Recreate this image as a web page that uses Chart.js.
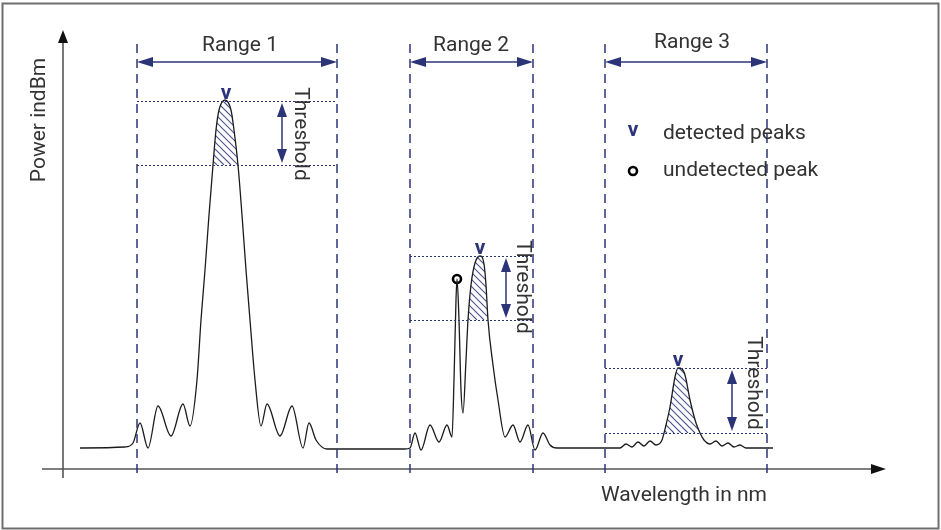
<!DOCTYPE html>
<html>
<head>
<meta charset="utf-8">
<script src="https://cdn.jsdelivr.net/npm/chart.js@4.4.1/dist/chart.umd.min.js"></script>
<style>
  html, body { margin: 0; padding: 0; background: #fff; }
</style>
</head>
<body>
<canvas id="peakChart" width="941" height="530"></canvas>
<script>
// Spectrum trace, arbitrary wavelength units (x) and arbitrary power units (y)
const traceX = [17, 62, 70, 77, 85, 95, 108, 120, 127, 134, 138, 142, 146, 150, 153, 156, 162, 168, 171, 175, 179, 183, 187, 192, 198, 204, 217, 229, 240, 246, 253, 264, 274, 342,
  347, 352, 358, 367, 376, 384, 389, 391, 393, 394, 396, 398, 400, 403, 405, 408, 412, 417, 421, 423, 425, 430, 435, 442, 450, 457, 465, 472, 480, 487, 494,
  557, 563, 569, 575, 581, 587, 593, 599, 603, 607, 612, 615, 619, 622, 627, 633, 637, 641, 647, 653, 659, 665, 671, 677, 683, 710];
const traceY = [21, 22, 26, 46, 21, 63, 33, 65, 43, 89, 149, 199, 254, 304, 339, 359, 369, 359, 339, 304, 254, 199, 149, 89, 43, 65, 33, 63, 21, 46, 29, 20, 20, 20,
  21, 36, 19, 44, 27, 44, 32, 89, 169, 190, 149, 79, 56, 109, 149, 184, 206, 213, 205, 184, 149, 104, 69, 32, 44, 27, 44, 19, 36, 24, 21,
  21, 25, 22, 27, 23, 28, 24, 29, 44, 62, 92, 101, 100, 94, 69, 46, 36, 29, 25, 28, 23, 26, 22, 24, 21, 21];

// Measurement ranges
const rangeNames = ['Range 1', 'Range 2', 'Range 3'];
const rangeStart = [74, 347, 542];
const rangeEnd = [274, 470, 704];
const rangeArrowY = [407, 407, 407];
const rangeLabelX = [177, 408, 629];
const rangeLabelY = [423, 423, 426];

// Threshold band of each range (peak level and peak level minus threshold)
const thresholdTop = [368, 213, 101];
const thresholdBottom = [304, 149, 36];
const thresholdArrowX = [219, 443, 669];
const thresholdLabelX = [237, 459, 690];
const thresholdLabelY = [335, 182, 86];
const hatchFrom = [140, 400, 590];
const hatchTo = [185, 440, 650];

// Peaks
const detectedPeakX = [163, 417, 615];
const detectedPeakY = [368, 213, 101];
const undetectedPeakX = [394];
const undetectedPeakY = [190];

// Legend entries
const legendLabels = ['detected peaks', 'undetected peak'];
const legendY = [335, 298];
const legendMarkX = 570;
const legendTextX = 600;

const navy = '#2c3478';
const textColor = '#333333';
const font = '21px Roboto, "Noto Sans", sans-serif';

function arrowHead(ctx, tipX, tipY, angle, len, half) {
  ctx.save();
  ctx.translate(tipX, tipY);
  ctx.rotate(angle);
  ctx.beginPath();
  ctx.moveTo(0, 0);
  ctx.lineTo(-len, -half);
  ctx.lineTo(-len, half);
  ctx.closePath();
  ctx.fill();
  ctx.restore();
}

const diagramPlugin = {
  id: 'diagram',
  beforeDatasetsDraw(chart) {
    // hatched area between the peak and the threshold line
    const ctx = chart.ctx;
    const xs = chart.scales.x, ys = chart.scales.y;
    const line = chart.getDatasetMeta(0).dataset;
    thresholdTop.forEach((top, i) => {
      const l = xs.getPixelForValue(hatchFrom[i]);
      const r = xs.getPixelForValue(hatchTo[i]);
      const t = ys.getPixelForValue(top);
      const b = ys.getPixelForValue(thresholdBottom[i]);
      ctx.save();
      ctx.beginPath();
      ctx.rect(l, t, r - l, b - t);
      ctx.clip();
      ctx.beginPath();
      line.path(ctx);
      ctx.clip();
      ctx.strokeStyle = '#4a5390';
      ctx.lineWidth = 1.1;
      const h = b - t;
      ctx.beginPath();
      for (let x = l - h; x < r; x += 7) {
        ctx.moveTo(x, t);
        ctx.lineTo(x + h, b);
      }
      ctx.stroke();
      ctx.restore();
    });
  },
  afterDraw(chart) {
    const ctx = chart.ctx;
    const xs = chart.scales.x, ys = chart.scales.y;
    const px = v => xs.getPixelForValue(v);
    const py = v => ys.getPixelForValue(v);

    ctx.save();

    // frame
    ctx.strokeStyle = '#6e6e6e';
    ctx.lineWidth = 2;
    ctx.strokeRect(2.5, 3.5, chart.width - 5, chart.height - 5);

    // axes
    ctx.strokeStyle = '#555';
    ctx.fillStyle = '#111';
    ctx.lineWidth = 1.6;
    ctx.beginPath();
    ctx.moveTo(px(0), py(-9));
    ctx.lineTo(px(0), py(430));
    ctx.moveTo(px(-21), py(0));
    ctx.lineTo(px(812), py(0));
    ctx.stroke();
    arrowHead(ctx, px(0), py(439), -Math.PI / 2, 13, 5);
    arrowHead(ctx, px(823), py(0), 0, 15, 5);

    // dashed range borders
    ctx.strokeStyle = navy;
    ctx.lineWidth = 1.5;
    ctx.setLineDash([9, 6]);
    ctx.beginPath();
    rangeStart.concat(rangeEnd).forEach(v => {
      ctx.moveTo(px(v), py(425));
      ctx.lineTo(px(v), py(-5));
    });
    ctx.stroke();

    // dotted threshold lines
    ctx.lineWidth = 1;
    ctx.setLineDash([2, 2]);
    ctx.beginPath();
    rangeStart.forEach((s, i) => {
      [thresholdTop[i], thresholdBottom[i]].forEach(y => {
        ctx.moveTo(px(s), Math.round(py(y)) + 0.5);
        ctx.lineTo(px(rangeEnd[i]), Math.round(py(y)) + 0.5);
      });
    });
    ctx.stroke();
    ctx.setLineDash([]);

    // range arrows
    ctx.fillStyle = navy;
    ctx.lineWidth = 1.5;
    rangeStart.forEach((s, i) => {
      const y = py(rangeArrowY[i]);
      ctx.beginPath();
      ctx.moveTo(px(s) + 8, y);
      ctx.lineTo(px(rangeEnd[i]) - 8, y);
      ctx.stroke();
      arrowHead(ctx, px(s), y, Math.PI, 16, 5);
      arrowHead(ctx, px(rangeEnd[i]), y, 0, 16, 5);
    });

    // threshold arrows
    thresholdArrowX.forEach((v, i) => {
      const x = px(v);
      const t = py(thresholdTop[i]) + 2;
      const b = py(thresholdBottom[i]) - 2;
      ctx.beginPath();
      ctx.moveTo(x, t + 8);
      ctx.lineTo(x, b - 8);
      ctx.stroke();
      arrowHead(ctx, x, t, -Math.PI / 2, 14, 5);
      arrowHead(ctx, x, b, Math.PI / 2, 14, 5);
    });

    // detected peak marks
    ctx.font = 'bold 21px Roboto, sans-serif';
    ctx.textAlign = 'center';
    ctx.textBaseline = 'alphabetic';
    detectedPeakX.forEach((v, i) => {
      ctx.fillText('v', px(v), py(detectedPeakY[i]) - 2);
    });

    // legend
    ctx.textBaseline = 'middle';
    ctx.fillText('v', px(legendMarkX), py(legendY[0]) - 3);
    ctx.strokeStyle = '#000';
    ctx.lineWidth = 2.6;
    ctx.beginPath();
    ctx.arc(px(legendMarkX), py(legendY[1]), 4, 0, Math.PI * 2);
    ctx.stroke();

    ctx.fillStyle = textColor;
    ctx.font = font;
    ctx.textAlign = 'left';
    legendLabels.forEach((t, i) => ctx.fillText(t, px(legendTextX), py(legendY[i])));

    // range labels
    ctx.textAlign = 'center';
    rangeNames.forEach((t, i) => ctx.fillText(t, px(rangeLabelX[i]), py(rangeLabelY[i])));

    // threshold labels
    thresholdLabelX.forEach((v, i) => {
      ctx.save();
      ctx.translate(px(v), py(thresholdLabelY[i]));
      ctx.rotate(Math.PI / 2);
      ctx.fillText('Threshold', 0, 0);
      ctx.restore();
    });

    // axis titles
    ctx.save();
    ctx.translate(px(-23), py(349));
    ctx.rotate(-Math.PI / 2);
    ctx.fillText('Power indBm', 0, 0);
    ctx.restore();
    ctx.fillText('Wavelength in nm', px(621), py(-27));

    ctx.restore();
  }
};

const ctx = document.getElementById('peakChart').getContext('2d');
new Chart(ctx, {
  type: 'line',
  data: {
    datasets: [
      {
        data: traceX.map((x, i) => ({ x, y: traceY[i] })),
        borderColor: '#1c1c1c',
        borderWidth: 1.3,
        pointRadius: 0,
        cubicInterpolationMode: 'monotone',
        fill: false
      },
      {
        data: undetectedPeakX.map((x, i) => ({ x, y: undetectedPeakY[i] })),
        showLine: false,
        pointRadius: 4,
        pointBorderWidth: 2.6,
        pointBorderColor: '#000',
        pointBackgroundColor: '#fff'
      }
    ]
  },
  options: {
    responsive: false,
    devicePixelRatio: 1,
    animation: false,
    layout: { padding: { left: 63, right: 56, top: 30, bottom: 61 } },
    scales: {
      x: { type: 'linear', min: 0, max: 822, display: false },
      y: { type: 'linear', min: 0, max: 439, display: false }
    },
    plugins: { legend: { display: false }, tooltip: { enabled: false } }
  },
  plugins: [diagramPlugin]
});
</script>
</body>
</html>
